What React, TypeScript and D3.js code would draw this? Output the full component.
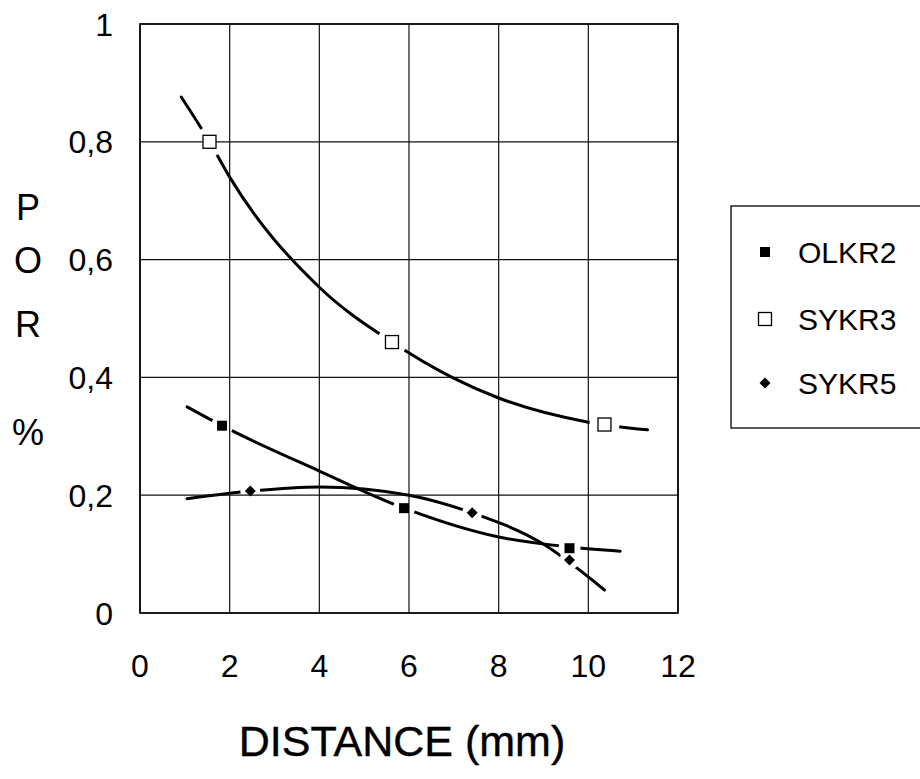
import React from "react";
import * as d3 from "d3";

// Measured data points per series (distance in mm, POR %)
const olkr2X = [1.83, 5.89, 9.58];
const olkr2Y = [0.318, 0.178, 0.11];
const sykr3X = [1.55, 5.62, 10.36];
const sykr3Y = [0.8, 0.46, 0.32];
const sykr5X = [2.46, 7.41, 9.58];
const sykr5Y = [0.207, 0.17, 0.09];

// Fitted trend curves, sampled along each series
const olkr2TrendX = [1.05, 1.83, 4, 5.89, 8, 9.58, 10.71];
const olkr2TrendY = [0.35, 0.318, 0.241, 0.178, 0.129, 0.112, 0.105];
const sykr3TrendX = [0.92, 1.55, 2, 4, 5.62, 6.96, 8, 10, 11.32];
const sykr3TrendY = [0.876, 0.8, 0.74, 0.553, 0.46, 0.4, 0.365, 0.324, 0.311];
const sykr5TrendX = [1.05, 2.46, 4, 6, 7.41, 8.93, 10.36];
const sykr5TrendY = [0.194, 0.207, 0.214, 0.2, 0.17, 0.12, 0.039];

const xTicks = [0, 2, 4, 6, 8, 10, 12];
const yTicks = [0, 0.2, 0.4, 0.6, 0.8, 1];
const yTickLabels = ["0", "0,2", "0,4", "0,6", "0,8", "1"];
const seriesNames = ["OLKR2", "SYKR3", "SYKR5"];
const yTitleLetters = ["P", "O", "R", "%"];

const W = 920;
const H = 779;
const FONT = "'Liberation Sans', Arial, Helvetica, sans-serif";

type Pt = [number, number];
const zip = (xs: number[], ys: number[]): Pt[] => xs.map((v, i) => [v, ys[i]]);

export default function App() {
  const x = d3.scaleLinear().domain([0, 12]).range([140, 678]);
  const y = d3.scaleLinear().domain([0, 1]).range([613, 24]);
  const line = d3
    .line<Pt>()
    .x((d) => x(d[0]))
    .y((d) => y(d[1]))
    .curve(d3.curveMonotoneX);

  const series = [
    { name: seriesNames[0], pts: zip(olkr2X, olkr2Y), trend: zip(olkr2TrendX, olkr2TrendY), kind: "filled", halo: 11 },
    { name: seriesNames[1], pts: zip(sykr3X, sykr3Y), trend: zip(sykr3TrendX, sykr3TrendY), kind: "open", halo: 15 },
    { name: seriesNames[2], pts: zip(sykr5X, sykr5Y), trend: zip(sykr5TrendX, sykr5TrendY), kind: "diamond", halo: 10 },
  ];

  const marker = (kind: string, cx: number, cy: number, key: string) => {
    if (kind === "filled") {
      return <rect key={key} x={cx - 5} y={cy - 5} width={10} height={10} fill="#000" />;
    }
    if (kind === "open") {
      return (
        <rect key={key} x={cx - 6.5} y={cy - 6.5} width={13} height={13} fill="#fff" stroke="#000" strokeWidth={1.3} />
      );
    }
    const r = 5.5;
    return (
      <path key={key} d={`M${cx},${cy - r}L${cx + r},${cy}L${cx},${cy + r}L${cx - r},${cy}Z`} fill="#000" />
    );
  };

  const [x0, x1] = x.range();
  const [y0, y1] = y.range();

  return (
    <svg
      width={W}
      height={H}
      viewBox={`0 0 ${W} ${H}`}
      style={{ position: "absolute", left: 0, top: 0, background: "#fff" }}
      fontFamily={FONT}
    >
      <rect x={0} y={0} width={W} height={H} fill="#fff" />

      {/* trend curves */}
      {series.map((s) => (
        <path key={`t-${s.name}`} d={line(s.trend) || ""} fill="none" stroke="#000" strokeWidth={3} strokeLinecap="round" />
      ))}

      {/* white clearance around markers */}
      {series.map((s) =>
        s.pts.map((p, i) => <circle key={`h-${s.name}-${i}`} cx={x(p[0])} cy={y(p[1])} r={s.halo} fill="#fff" />)
      )}

      {/* grid */}
      {xTicks.map((t) => (
        <line key={`gx-${t}`} x1={x(t)} x2={x(t)} y1={y1} y2={y0} stroke="#111" strokeWidth={1.2} />
      ))}
      {yTicks.map((t) => (
        <line key={`gy-${t}`} x1={x0} x2={x1} y1={y(t)} y2={y(t)} stroke="#111" strokeWidth={1.2} />
      ))}
      <rect x={x0} y={y1} width={x1 - x0} height={y0 - y1} fill="none" stroke="#000" strokeWidth={1.6} />

      {/* markers */}
      {series.map((s) => s.pts.map((p, i) => marker(s.kind, x(p[0]), y(p[1]), `m-${s.name}-${i}`)))}

      {/* y tick labels */}
      {yTicks.map((t, i) => (
        <text key={`yl-${t}`} x={113} y={y(t)} dy="0.36em" textAnchor="end" fontSize={32} fill="#000">
          {yTickLabels[i]}
        </text>
      ))}
      {/* x tick labels */}
      {xTicks.map((t) => (
        <text key={`xl-${t}`} x={x(t)} y={677} textAnchor="middle" fontSize={32} fill="#000">
          {t}
        </text>
      ))}

      {/* axis titles */}
      {yTitleLetters.map((c, i) => (
        <text key={`yt-${c}`} x={28} y={[207, 260, 324, 432][i]} dy="0.36em" textAnchor="middle" fontSize={36} fill="#000">
          {c}
        </text>
      ))}
      <text x={402} y={756} textAnchor="middle" fontSize={43} fill="#000" stroke="#000" strokeWidth={0.4}>
        DISTANCE (mm)
      </text>

      {/* legend */}
      <rect x={731} y={206} width={200} height={222} fill="#fff" stroke="#000" strokeWidth={1.3} />
      {series.map((s, i) => {
        const ly = [252, 319, 383][i];
        return (
          <g key={`lg-${s.name}`}>
            {marker(s.kind, 765, ly, `lm-${s.name}`)}
            <text x={798} y={ly} dy="0.36em" fontSize={30} fill="#000">
              {s.name}
            </text>
          </g>
        );
      })}
    </svg>
  );
}
